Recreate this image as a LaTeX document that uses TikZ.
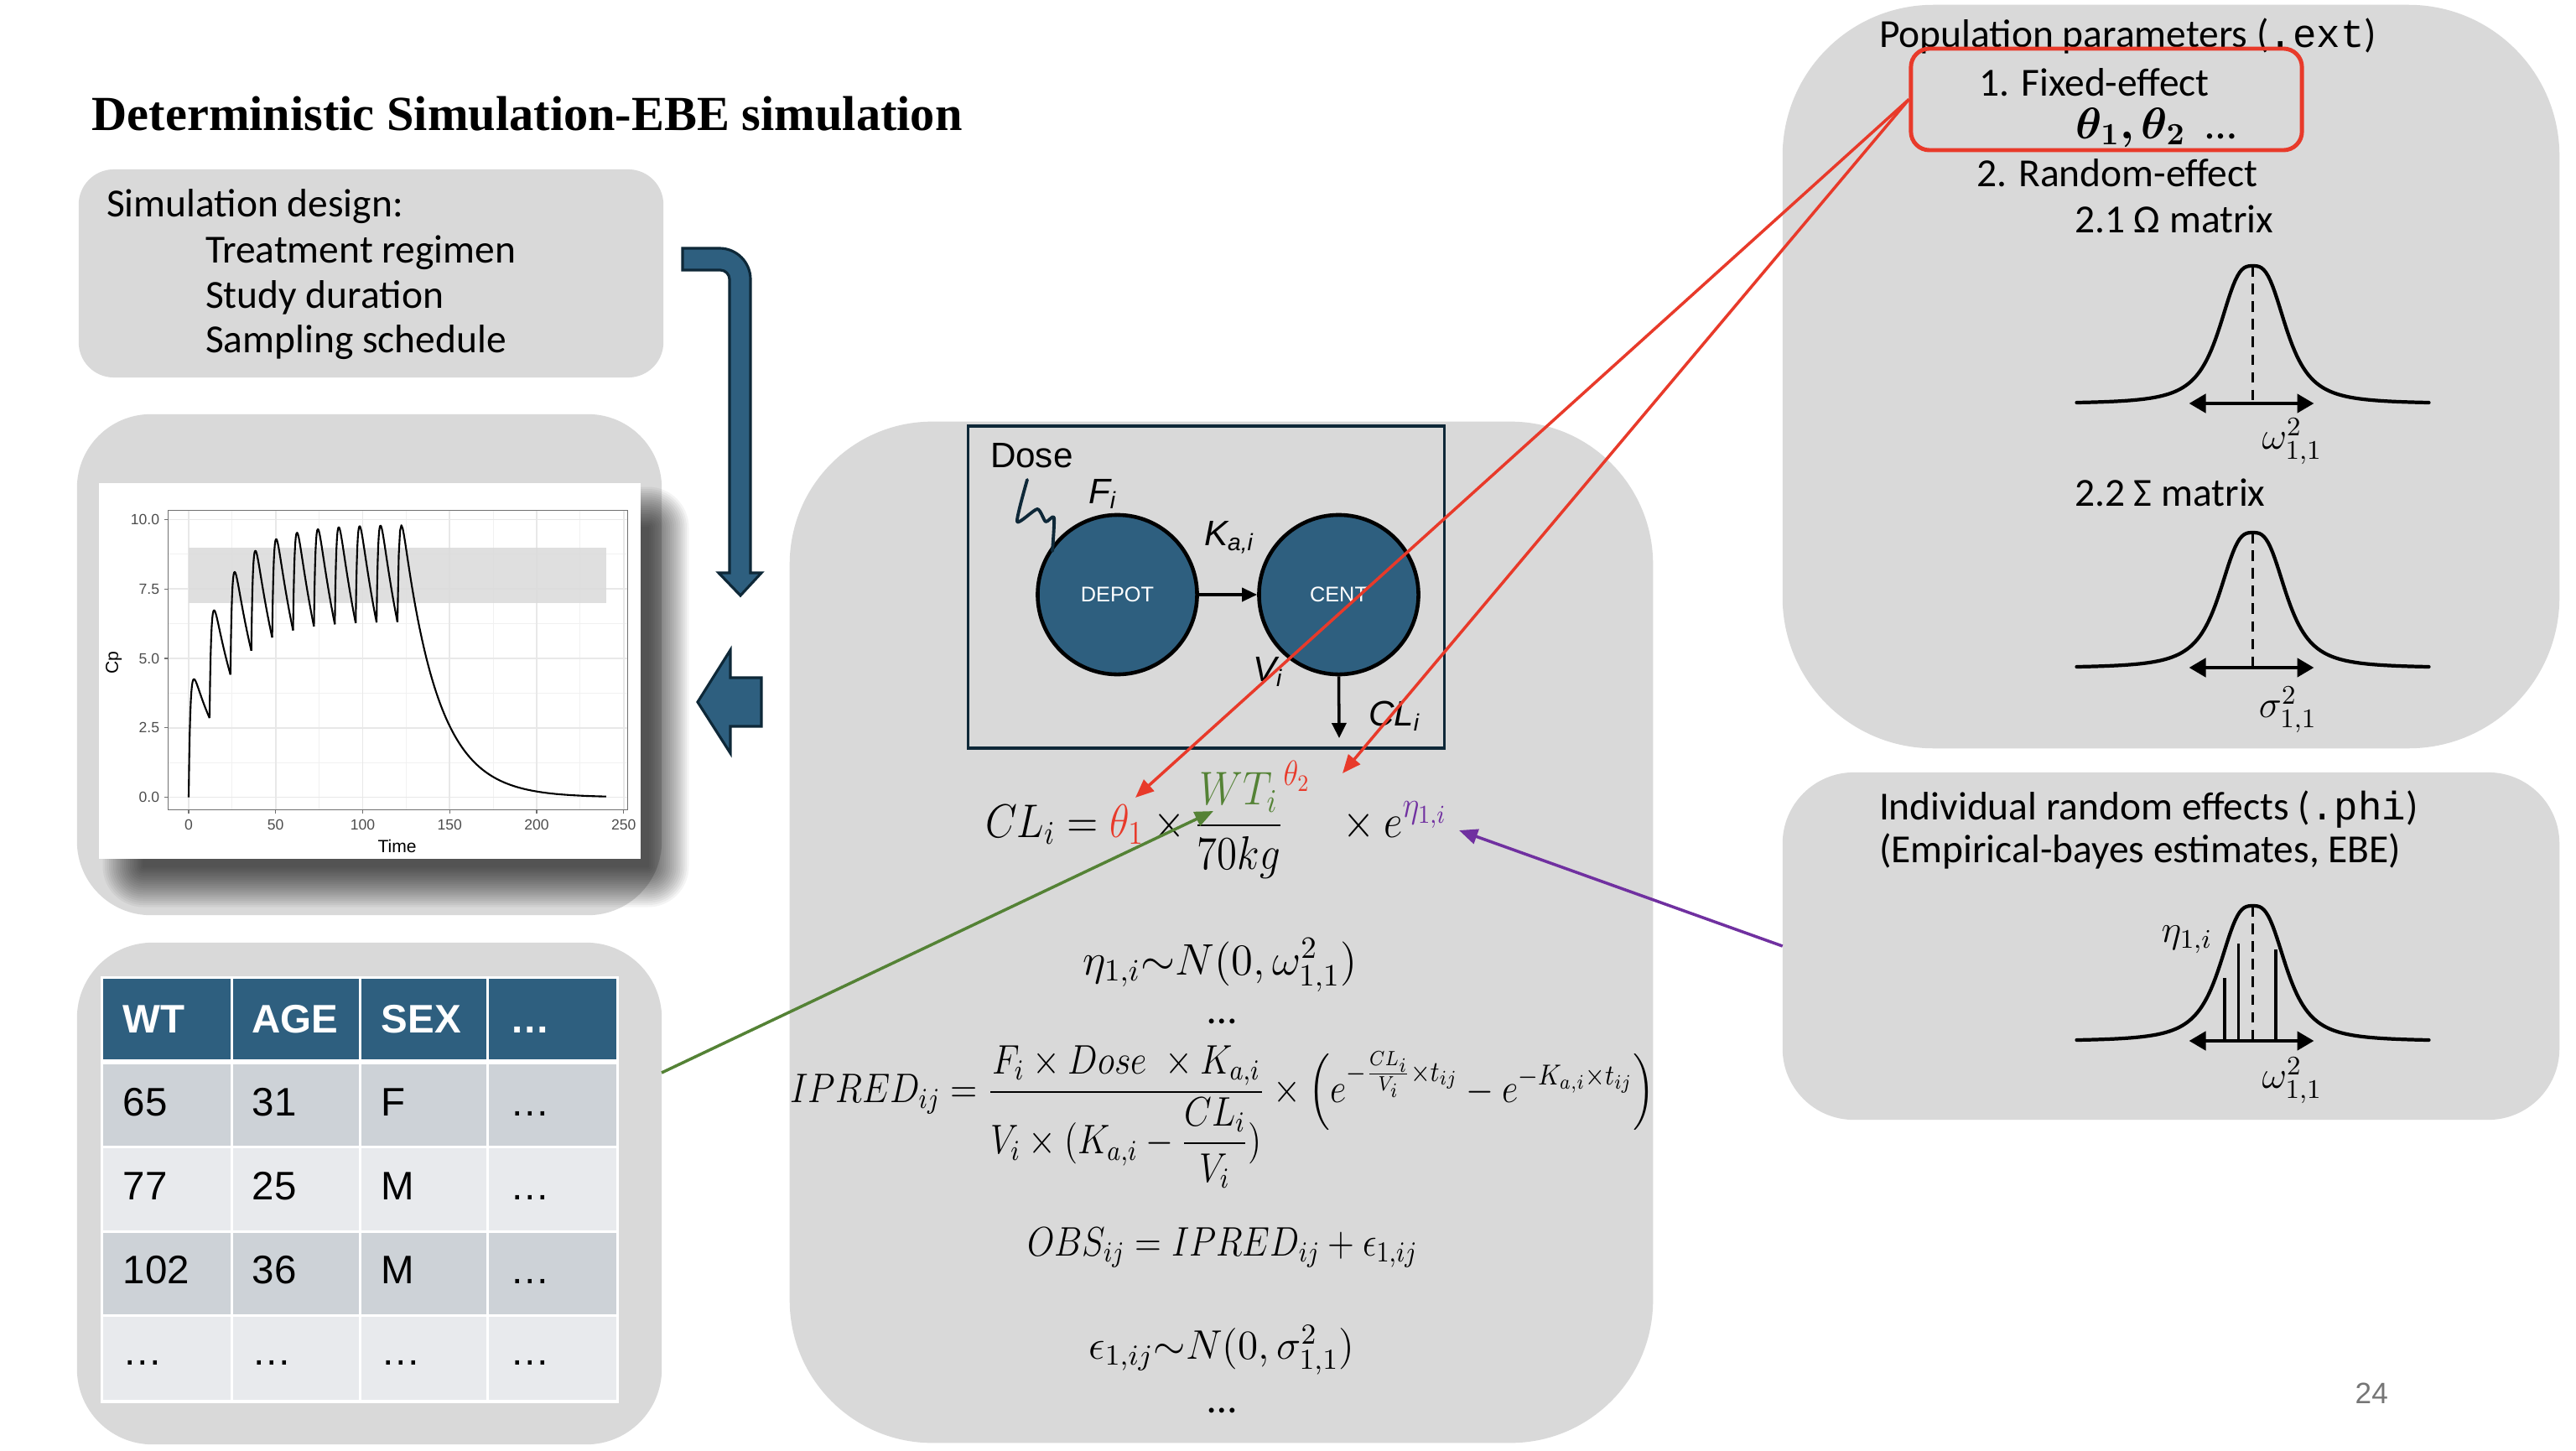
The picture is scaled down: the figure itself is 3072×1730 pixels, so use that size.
\RequirePackage{fix-cm}
\documentclass[tikz,border=0pt]{standalone}
\usepackage{amsmath}
\usepackage[no-math]{fontspec}
\usepackage{bm}
\setmainfont{Carlito}
\newfontfamily\arialf{Liberation Sans}
\newfontfamily\monof{Liberation Mono}
\newfontfamily\timesf{Liberation Serif}
\usetikzlibrary{arrows.meta}
\definecolor{boxgray}{RGB}{217,217,217}
\definecolor{navy}{RGB}{46,95,127}
\definecolor{navyedge}{RGB}{14,40,56}
\definecolor{rowA}{RGB}{205,210,215}
\definecolor{rowB}{RGB}{232,234,237}
\definecolor{redl}{RGB}{232,58,42}
\definecolor{greenl}{RGB}{84,130,53}
\definecolor{purplel}{RGB}{112,48,160}
\definecolor{axisgray}{RGB}{77,77,77}
\definecolor{gridgray}{RGB}{232,232,232}
\definecolor{bandgray}{RGB}{218,218,218}
\definecolor{pagegray}{RGB}{118,118,118}
\newcommand\bellcurve[3]{%
  \draw[bellline] plot[domain=-210:210,samples=161]
    ({#1+\x},{#2-#3*(1/(1+(abs(\x)/42.6)*(abs(\x)/42.6)*(abs(\x)/42.6))-0.0083)/0.9917});
  \draw[dashln] (#1,#2-#3) -- (#1,#2);
  \draw[dblarrow] (#1-76,#2+1) -- (#1+73,#2+1);
}
\begin{document}
\begin{tikzpicture}[x=0.01cm,y=-0.01cm,
  gbox/.style={rectangle,fill=boxgray,draw=none,inner sep=0pt,outer sep=0pt},
  lbl/.style={anchor=base west,inner sep=0pt,outer sep=0pt,font=\fontsize{13.5}{16}\selectfont},
  arl/.style={anchor=base west,inner sep=0pt,outer sep=0pt,font=\arialf\fontsize{12}{14}\selectfont\itshape},
  thead/.style={anchor=base west,inner sep=0pt,text=white,font=\arialf\bfseries\fontsize{13.5}{16}\selectfont},
  tcell/.style={anchor=base west,inner sep=0pt,font=\arialf\fontsize{13.5}{16}\selectfont},
  eqn/.style={anchor=base,inner sep=0pt,outer sep=0pt,font=\fontsize{14}{17}\selectfont},
  edots/.style={anchor=base,inner sep=0pt,outer sep=0pt,font=\fontsize{14}{17}\selectfont},
  mlab/.style={inner sep=0pt,font=\fontsize{13}{15}\selectfont},
  bellline/.style={line width=1.2pt,line cap=round},
  dashln/.style={line width=0.9pt,dash pattern=on 3.6pt off 2.4pt},
  dblarrow/.style={line width=1.3pt,{Triangle[length=0.2cm,width=0.22cm]}-{Triangle[length=0.2cm,width=0.22cm]}},
  bluearr/.style={fill=navy,draw=navyedge,line width=0.9pt,line join=miter},
  gminor/.style={draw=gridgray!60,line width=0.25pt},
  gmajor/.style={draw=gridgray,line width=0.45pt},
  ticklab/.style={inner sep=0pt,text=axisgray,font=\arialf\fontsize{5}{6}\selectfont},
  axlab/.style={inner sep=0pt,font=\arialf\fontsize{6}{7}\selectfont},
  pcurve/.style={line width=0.6pt,line join=round},
  redc/.style={draw=redl,line width=1pt,-{Triangle[length=0.22cm,width=0.18cm]}},
  greenc/.style={draw=greenl,line width=1pt,-{Triangle[length=0.22cm,width=0.18cm]}},
  purplec/.style={draw=purplel,line width=1pt,-{Triangle[length=0.22cm,width=0.18cm]}}]
\useasboundingbox (0,0) rectangle (3072,1730);
\fill[white] (0,0) rectangle (3072,1730);

% title
\node[anchor=base west,inner sep=0pt] (title) at (109,155)
  {\fontsize{16.6}{20}\selectfont\timesf\bfseries Deterministic Simulation-EBE simulation};

% simulation design box
\node[gbox,rounded corners=0.42cm,minimum width=6.97cm,minimum height=2.48cm] (design) at (442.5,326) {};
\node[lbl] (sd0) at (127,258) {Simulation design:};
\node[lbl] (sd1) at (245,313) {Treatment regimen};
\node[lbl] (sd2) at (245,367) {Study duration};
\node[lbl] (sd3) at (245,420) {Sampling schedule};

% plot box
\node[gbox,rounded corners=0.88cm,minimum width=6.97cm,minimum height=5.97cm] (plotbox) at (440.5,792.5) {};
\foreach \k in {0,...,19}{
  \pgfmathsetmacro\rr{0.01+\k*0.025}
  \fill[black,fill opacity=0.042,rounded corners=\rr cm] (170-\k*2.5,628-\k*2.5) rectangle (774+\k*2.5,1034+\k*2.5);
}
\node[rectangle,fill=white,inner sep=0pt,minimum width=6.46cm,minimum height=4.48cm] (plotimg) at (441,800) {};
\begin{scope}[shift={(225,950.6)},x=0.02073cm,y=0.3309cm]
  \foreach \c in {1.25,3.75,6.25,8.75} \draw[gminor] (-11.9,\c) -- (252.2,\c);
  \foreach \t in {25,75,...,225} \draw[gminor] (\t,-0.46) -- (\t,10.33);
  \foreach \c in {0,2.5,5,7.5,10} \draw[gmajor] (-11.9,\c) -- (252.2,\c);
  \foreach \t in {0,50,...,250} \draw[gmajor] (\t,-0.46) -- (\t,10.33);
  \fill[bandgray,fill opacity=0.85] (0,7) rectangle (240,9);
  \foreach \m in {0,...,9}{
    \pgfmathsetmacro\S{(1-0.5488^(\m+1))/0.4512}
    \draw[pcurve] plot[domain=0:12,samples=40] ({12*\m+\x},{5.2*(\S*exp(-0.05*\x)-exp(-1.05*\x))});
  }
  \pgfmathsetmacro\S{(1-0.5488^11)/0.4512}
  \draw[pcurve] plot[domain=0:120,samples=160] ({120+\x},{5.2*(\S*exp(-0.05*\x)-exp(-1.05*\x))});
  \draw[axisgray!80,line width=0.35pt] (-11.9,-0.46) rectangle (252.2,10.33);
  \foreach \c/\lab [count=\i] in {0/0.0,2.5/2.5,5/5.0,7.5/7.5,10/10.0}{
    \draw[axisgray!80,line width=0.35pt] (-11.9,\c) -- (-14.2,\c);
    \node[ticklab,anchor=east] (yt\i) at (-16.5,\c) {\lab};
  }
  \foreach \t [count=\i] in {0,50,...,250}{
    \draw[axisgray!80,line width=0.35pt] (\t,-0.46) -- (\t,-0.6);
    \node[ticklab] (xt\i) at (\t,-1.0) {\t};
  }
  \node[axlab] (xlab) at (119.8,-1.75) {Time};
  \node[axlab,rotate=90] (ylab) at (-43,4.84) {Cp};
\end{scope}

% table box
\node[gbox,rounded corners=0.9cm,minimum width=6.97cm,minimum height=5.98cm] (tablebox) at (440.5,1423) {};
\fill[white] (120,1164) rectangle (738,1673);
\foreach \xa/\xb in {123/274.5,277.5/427.5,430.5/579.5,582.5/735}{
  \fill[navy] (\xa,1167) rectangle (\xb,1263);
  \fill[rowA] (\xa,1269) rectangle (\xb,1366);
  \fill[rowB] (\xa,1369) rectangle (\xb,1467);
  \fill[rowA] (\xa,1470) rectangle (\xb,1567);
  \fill[rowB] (\xa,1570) rectangle (\xb,1669);
}
\node[thead] (h1) at (146,1231) {WT};
\node[thead] (h2) at (300,1231) {AGE};
\node[thead] (h3) at (454,1231) {SEX};
\node[thead] (h4) at (608,1231) {…};
\foreach \a/\b/\c/\yy [count=\ri] in {65/31/F/1330,77/25/M/1430,102/36/M/1530,…/…/…/1627}{
  \node[tcell] (c\ri a) at (146,\yy) {\a};
  \node[tcell] (c\ri b) at (300,\yy) {\b};
  \node[tcell] (c\ri c) at (454,\yy) {\c};
  \node[tcell] (c\ri d) at (608,\yy) {…};
}

% blue arrows
\path[bluearr] (814,296) -- (858,296) .. controls (878.4,296) and (895,312.6) .. (895,333)
  -- (895,683) -- (908,683) -- (883,710) -- (857,683) -- (870,683) -- (870,333)
  .. controls (870,327) and (865,322) .. (859,322) -- (814,322) -- cycle;
\path[bluearr] (832,837) -- (871,775) -- (871,808) -- (908,808) -- (908,866) -- (871,866) -- (871,898) -- cycle;

% model box
\node[gbox,rounded corners=1.7cm,minimum width=10.29cm,minimum height=12.17cm] (modelbox) at (1456.5,1111.5) {};
\node[draw=navyedge,line width=1pt,minimum width=5.68cm,minimum height=3.84cm,inner sep=0pt] (comprect) at (1438.5,700) {};
\node[circle,fill=navy,draw=black,line width=1.3pt,minimum size=1.9cm,inner sep=0pt,text=white,font=\arialf\fontsize{7.2}{8}\selectfont] (depot) at (1332.5,709) {DEPOT};
\node[circle,fill=navy,draw=black,line width=1.3pt,minimum size=1.9cm,inner sep=0pt,text=white,font=\arialf\fontsize{7.2}{8}\selectfont] (cent) at (1596.5,709) {CENT};
\draw[line width=1pt,-{Triangle[length=0.18cm,width=0.16cm]}] (depot) -- (cent);
\coordinate (clend) at (1597,880);
\draw[line width=1pt,-{Triangle[length=0.18cm,width=0.17cm]}] (cent.south) -- (clend);
\node[arl,font=\arialf\fontsize{12}{14}\selectfont] (dose) at (1181,557) {Dose};
\node[arl] (fi) at (1298,600) {F\textsubscript{i}};
\node[arl] (kai) at (1436,650) {K\textsubscript{a,i}};
\node[arl] (vi) at (1494,812) {V\textsubscript{i}};
\node[arl] (cli) at (1632,865) {CL\textsubscript{i}};
\draw[navyedge,line width=1.1pt,line join=round,line cap=round] plot[smooth,tension=0.4] coordinates {(1225,572) (1213,622) (1237,607) (1247,622) (1257,617) (1255,657)};

% equations
\node[eqn,anchor=base west,xscale=0.87,font=\fontsize{16}{19}\selectfont] (cleq) at (1175,998)
  {$\displaystyle CL_i = {\color{redl}\theta_1}\times\frac{{\color{greenl}WT_i}}{70kg}^{\mbox{\fontsize{12}{14}\selectfont$\color{redl}\theta_2$}}\;\;\times e^{\mbox{\fontsize{12.5}{14}\selectfont$\color{purplel}\eta_{1,i}$}}$};
\node[eqn,font=\fontsize{15}{18}\selectfont] (etaeq) at (1455,1162) {$\eta_{1,i}{\sim}N(0,\omega^2_{1,1})$};
\node[edots] (dots1) at (1457,1220) {…};
\node[eqn,xscale=0.86] (ipred) at (1458,1314)
  {$\displaystyle IPRED_{ij}=\frac{F_i\times Dose\;\times K_{a,i}}{V_i\times(K_{a,i}-\dfrac{CL_i}{V_i})}\times\left(e^{-\frac{CL_i}{V_i}\times t_{ij}}-e^{-K_{a,i}\times t_{ij}}\right)$};
\node[eqn,xscale=0.85] (obs) at (1458,1497) {$OBS_{ij}=IPRED_{ij}+\epsilon_{1,ij}$};
\node[eqn] (epseq) at (1457,1620) {$\epsilon_{1,ij}{\sim}N(0,\sigma^2_{1,1})$};
\node[edots] (dots2) at (1457,1684) {…};

% population parameters box
\node[gbox,rounded corners=1.8cm,minimum width=9.26cm,minimum height=8.86cm] (popbox) at (2589,449) {};
\node[lbl] (pp) at (2241,57) {Population parameters ({\monof .ext})};
\node[draw=redl,line width=1.4pt,rounded corners=0.22cm,minimum width=4.66cm,minimum height=1.21cm,inner sep=0pt] (fixbox) at (2512,118.5) {};
\node[lbl] (fe) at (2360,114) {1. Fixed-effect};
\node[anchor=base west,inner sep=0pt] (thetas) at (2475,165) {\fontsize{15}{18}\selectfont$\bm{\theta_1,\theta_2}$\ \ …};
\node[lbl] (re) at (2357,222) {2. Random-effect};
\node[lbl] (om) at (2474,277) {2.1 Ω matrix};
\bellcurve{2686.5}{480}{163}
\node[mlab] (omlab1) at (2733.5,526) {$\omega^2_{1,1}$};
\node[lbl] (sg) at (2474,603) {2.2 Σ matrix};
\bellcurve{2686.5}{795}{160}
\node[mlab] (siglab) at (2728.5,846) {$\sigma^2_{1,1}$};

% EBE box
\node[gbox,rounded corners=0.85cm,minimum width=9.26cm,minimum height=4.14cm] (ebebox) at (2589,1128) {};
\node[lbl] (ire) at (2241,977) {Individual random effects ({\monof .phi})};
\node[lbl] (ebe) at (2241,1028) {(Empirical-bayes estimates, EBE)};
\bellcurve{2686.5}{1240}{160}
\draw[line width=1pt] (2653,1240) -- (2653,1166);
\draw[line width=1pt] (2669.5,1240) -- (2669.5,1125);
\draw[line width=1pt] (2714,1240) -- (2714,1132);
\node[mlab] (etalab) at (2608,1120) {$\eta_{1,i}$};
\node[mlab] (omlab2) at (2733.5,1288) {$\omega^2_{1,1}$};

% page number
\node[anchor=base west,inner sep=0pt,text=pagegray,font=\arialf\fontsize{10}{12}\selectfont] (pg) at (2808,1673) {24};

% connectors
\coordinate (th1tip) at (1354,951);
\coordinate (th2tip) at (1601,922);
\coordinate (wttip) at (1447,967);
\coordinate (etatip) at (1740,990);
\coordinate (gstart) at (789,1279);
\draw[redc] (fixbox.west) -- (th1tip);
\draw[redc] (fixbox.west) -- (th2tip);
\draw[greenc] (gstart) -- (wttip);
\draw[purplec] (ebebox.west) -- (etatip);
\end{tikzpicture}
\end{document}
